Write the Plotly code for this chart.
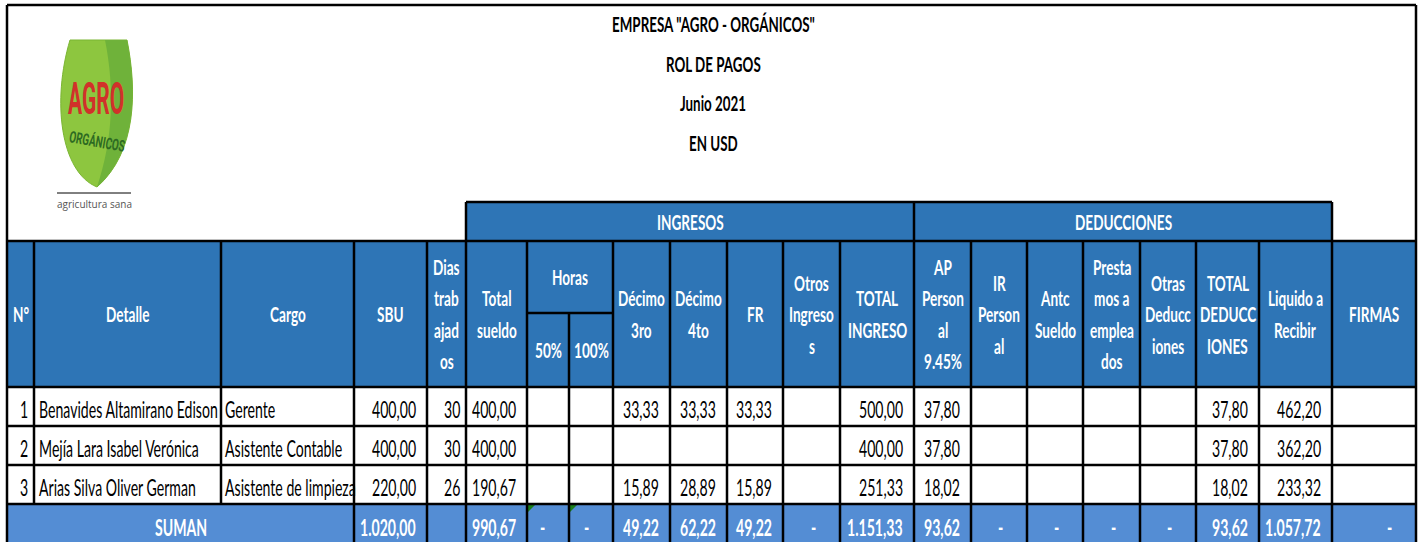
import plotly.graph_objects as go

# Datos del rol de pagos
numeros = [1, 2, 3]
detalle = ["Benavides Altamirano Edison", "Mejía Lara Isabel Verónica", "Arias Silva Oliver German"]
cargo = ["Gerente", "Asistente Contable", "Asistente de limpieza"]
sbu = [400.00, 400.00, 220.00]
dias_trabajados = [30, 30, 26]
total_sueldo = [400.00, 400.00, 190.67]
horas_50 = [None, None, None]
horas_100 = [None, None, None]
decimo_3ro = [33.33, None, 15.89]
decimo_4to = [33.33, None, 28.89]
fondo_reserva = [33.33, None, 15.89]
otros_ingresos = [None, None, None]
total_ingreso = [500.00, 400.00, 251.33]
aporte_personal = [37.80, 37.80, 18.02]
ir_personal = [None, None, None]
anticipo_sueldo = [None, None, None]
prestamos = [None, None, None]
otras_deducciones = [None, None, None]
total_deducciones = [37.80, 37.80, 18.02]
liquido_recibir = [462.20, 362.20, 233.32]
firmas = [None, None, None]

titulos = ['EMPRESA "AGRO - ORGÁNICOS"', "ROL DE PAGOS", "Junio 2021", "EN USD"]

encabezados = [
    ["N°"], ["Detalle"], ["Cargo"], ["SBU"], ["Dias", "trab", "ajad", "os"],
    ["Total", "sueldo"], ["50%"], ["100%"], ["Décimo", "3ro"], ["Décimo", "4to"],
    ["FR"], ["Otros", "Ingreso", "s"], ["TOTAL", "INGRESO"],
    ["AP", "Person", "al", "9.45%"], ["IR", "Person", "al"], ["Antc", "Sueldo"],
    ["Presta", "mos a", "emplea", "dos"], ["Otras", "Deducc", "iones"],
    ["TOTAL", "DEDUCC", "IONES"], ["Liquido a", "Recibir"], ["FIRMAS"],
]

columnas_numericas = [
    sbu, dias_trabajados, total_sueldo, horas_50, horas_100, decimo_3ro, decimo_4to,
    fondo_reserva, otros_ingresos, total_ingreso, aporte_personal, ir_personal,
    anticipo_sueldo, prestamos, otras_deducciones, total_deducciones, liquido_recibir, firmas,
]

# Geometría de la hoja (píxeles)
X = [7, 34, 221, 354, 427, 466, 527, 569, 613, 670, 727, 783, 840, 914,
     971, 1027, 1083, 1140, 1196, 1259, 1332, 1416]
Y_TOP, Y_GRUPO, Y_ENC, Y_HORAS, Y_DATOS = 5, 202, 241, 313, 387
ALTO_FILA = 39
Y_SUMA = Y_DATOS + ALTO_FILA * len(numeros)
Y_FIN = 542

AZUL = "#2E75B6"
AZUL_CLARO = "#548DD4"
FUENTE = "Lato"
T_DATOS = 14.1
T_ENC = 13.6

# La hoja original usa una letra estrecha y alta: se estira el texto en vertical
CSS = """
body { margin: 0; }
g.annotation text.annotation-text { transform-box: fill-box; transform-origin: center; transform: scaleY(1.58); }
g.annotation[data-index="0"] text.annotation-text { transform: scaleY(2.1); }
g.annotation[data-index="1"] text.annotation-text { transform: scaleY(1.6); }
g.annotation[data-index="2"] text.annotation-text { transform: none; }
"""


def formato(v):
    """Formato numérico estilo Excel en español: 1.020,00"""
    return f"{v:,.2f}".replace(",", "X").replace(".", ",").replace("X", ".")


def rect(fig, x0, y0, x1, y1, color):
    fig.add_shape(type="rect", x0=x0, y0=y0, x1=x1, y1=y1, fillcolor=color,
                  line_width=0, layer="below")


def linea(fig, x0, y0, x1, y1, ancho=2.5):
    fig.add_shape(type="line", x0=x0, y0=y0, x1=x1, y1=y1,
                  line=dict(color="black", width=ancho))


def texto(fig, x, y, t, size=T_DATOS, color="black", bold=False, anchor="center"):
    if bold:
        t = f"<b>{t}</b>"
    fig.add_annotation(x=x, y=y, text=t, showarrow=False, xanchor=anchor, yanchor="middle",
                       font=dict(family=FUENTE, size=size, color=color))


def texto_multilinea(fig, xc, y0, y1, lineas, paso=31.5):
    yc = (y0 + y1) / 2
    n = len(lineas)
    for i, l in enumerate(lineas):
        texto(fig, xc, yc + (i - (n - 1) / 2) * paso, l, size=T_ENC, color="white", bold=True)


fig = go.Figure()

# Logo (hoja) - las tres primeras anotaciones son del logo
fig.add_annotation(x=96, y=99, text="<b>AGRO</b>", showarrow=False,
                   font=dict(family="Roboto", size=21, color="#D1312A"))
fig.add_annotation(x=97, y=141, text="<b>ORGÁNICOS</b>", showarrow=False, textangle=10,
                   font=dict(family="Roboto", size=10, color="#2D6A22"))
fig.add_annotation(x=94, y=204, text="agricultura sana", showarrow=False,
                   font=dict(family="Open Sans", size=10, color="#555555"))
fig.add_shape(type="path", path="M 97 187 C 60 172, 52 100, 70 40 L 127 40 C 137 90, 137 152, 97 187 Z",
              fillcolor="#8DC63F", line=dict(color="#7AB532", width=1), layer="below")
fig.add_shape(type="path", path="M 97 187 C 113 140, 115 90, 105 40 L 127 40 C 137 90, 137 152, 97 187 Z",
              fillcolor="#6FB23A", line_width=0, layer="below")
linea(fig, 57, 193, 131, 193, ancho=1)

# Fondos
rect(fig, X[5], Y_GRUPO, X[13], Y_ENC, AZUL)
rect(fig, X[13], Y_GRUPO, X[20], Y_ENC, AZUL)
rect(fig, X[0], Y_ENC, X[-1], Y_DATOS, AZUL)
rect(fig, X[0], Y_SUMA, X[-1], Y_FIN, AZUL_CLARO)

# Títulos
for i, t in enumerate(titulos):
    texto(fig, 713, 24 + i * 39.5, t, size=13.4, bold=True)

# Encabezados de grupo
texto(fig, (X[5] + X[13]) / 2, (Y_GRUPO + Y_ENC) / 2, "INGRESOS", size=T_ENC, color="white", bold=True)
texto(fig, (X[13] + X[20]) / 2, (Y_GRUPO + Y_ENC) / 2, "DEDUCCIONES", size=T_ENC, color="white", bold=True)

# Encabezados de columna
for i, enc in enumerate(encabezados):
    xc = (X[i] + X[i + 1]) / 2
    if i in (6, 7):
        texto_multilinea(fig, xc, Y_HORAS, Y_DATOS, enc)
    else:
        texto_multilinea(fig, xc, Y_ENC, Y_DATOS, enc)
texto_multilinea(fig, (X[6] + X[8]) / 2, Y_ENC, Y_HORAS, ["Horas"])

# Filas de datos
for f in range(len(numeros)):
    yc = Y_DATOS + ALTO_FILA * (f + 1) - 17
    texto(fig, X[1] - 4, yc, str(numeros[f]), anchor="right")
    texto(fig, X[1] + 3, yc, detalle[f], anchor="left")
    texto(fig, X[2] + 2, yc, cargo[f], anchor="left")
    for j, col in enumerate(columnas_numericas):
        v = col[f]
        if v is None:
            continue
        if col is dias_trabajados:
            texto(fig, X[j + 4] - 4, yc, str(v), anchor="right")
        else:
            texto(fig, X[j + 4] - 9, yc, formato(v), anchor="right")

# Fila de totales
yc = Y_FIN - 15
texto(fig, (X[0] + X[3]) / 2, yc, "SUMAN", color="white", bold=True)
for j, col in enumerate(columnas_numericas):
    if col is dias_trabajados:
        continue
    valores = [v for v in col if v is not None]
    if valores:
        texto(fig, X[j + 4] - 9, yc, formato(sum(valores)), color="white", bold=True, anchor="right")
    else:
        texto(fig, X[j + 4] - 27, yc, "-", color="white", bold=True)

# Indicadores verdes de Excel
for xi in (X[6], X[7]):
    fig.add_shape(type="path", path=f"M {xi+1} {Y_SUMA+1} L {xi+8} {Y_SUMA+1} L {xi+1} {Y_SUMA+8} Z",
                  fillcolor="#1A7F1A", line_width=0)

# Bordes
linea(fig, X[0], Y_TOP, X[-1], Y_TOP)
linea(fig, X[0], Y_TOP, X[0], Y_FIN)
linea(fig, X[-1], Y_TOP, X[-1], Y_FIN)
linea(fig, X[5], Y_GRUPO, X[20], Y_GRUPO)
for xi in (X[5], X[13], X[20]):
    linea(fig, xi, Y_GRUPO, xi, Y_ENC)
linea(fig, X[0], Y_ENC, X[-1], Y_ENC)
linea(fig, X[6], Y_HORAS, X[8], Y_HORAS)
for k in range(len(numeros) + 1):
    yk = Y_DATOS + ALTO_FILA * k
    linea(fig, X[0], yk, X[-1], yk)
for i in range(1, len(X) - 1):
    y0 = Y_HORAS if i == 7 else Y_ENC
    y1 = Y_SUMA if i in (1, 2) else Y_FIN
    linea(fig, X[i], y0, X[i], y1)

fig.update_layout(
    width=1424, height=542,
    margin=dict(l=0, r=0, t=0, b=0),
    plot_bgcolor="white", paper_bgcolor="white",
    xaxis=dict(range=[0, 1424], visible=False, fixedrange=True),
    yaxis=dict(range=[542, 0], visible=False, fixedrange=True),
    showlegend=False,
)

post = "var s = document.createElement('style'); s.innerHTML = `" + CSS + "`; document.head.appendChild(s);"
fig.write_html("out.html", post_script=post, config={"displayModeBar": False})
